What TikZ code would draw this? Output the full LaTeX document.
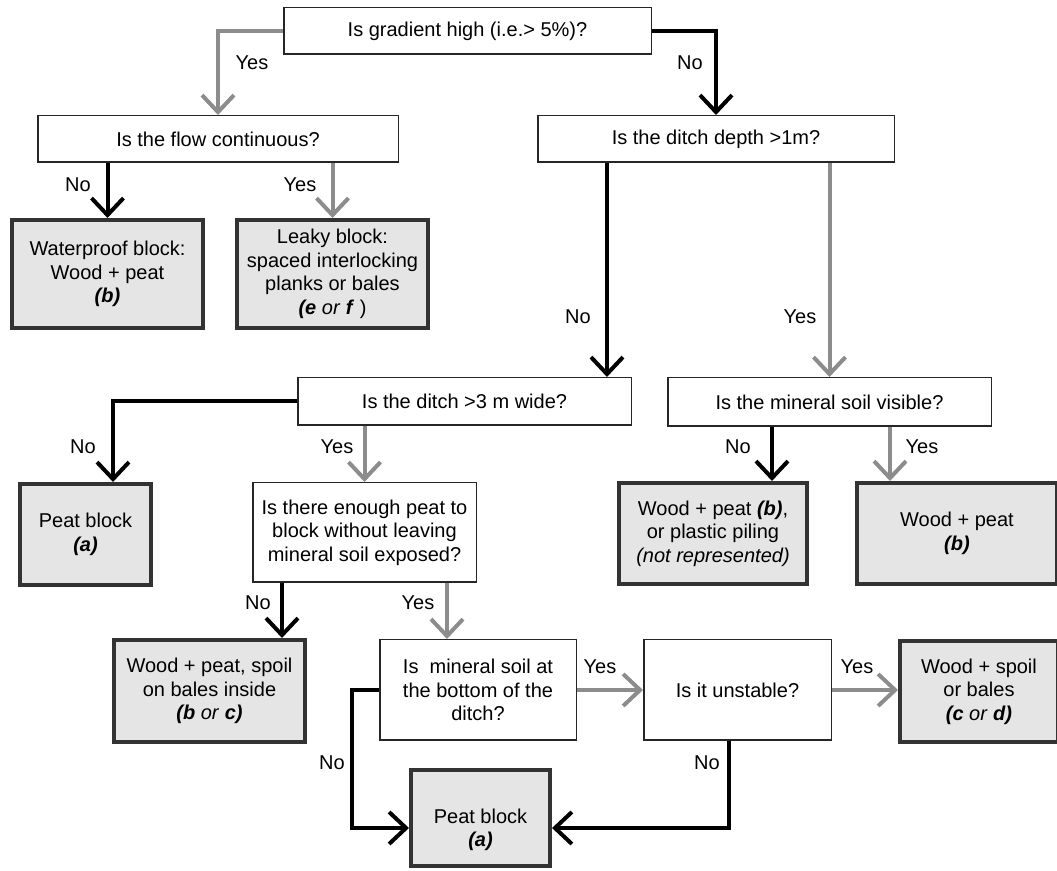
\documentclass[tikz,border=0pt]{standalone}
\usepackage{fontspec}
\setmainfont{Liberation Sans}
\usetikzlibrary{arrows.meta}
\newcommand{\bitx}[1]{\textbf{\textit{#1}}}

\begin{document}
\begin{tikzpicture}[x=0.5pt,y=-0.5pt,font=\fontsize{10}{11.75}\selectfont,
	question/.style={draw=black!85,line width=0.75pt,fill=white,align=center,inner sep=1pt},
	result/.style={draw=black!80,line width=2pt,fill=black!10,align=center,inner sep=1pt},
	yesarrow/.style={draw=black!45,line width=2pt,-{Straight Barb[length=8.5pt,width=16pt]}},
	noarrow/.style={draw=black,line width=2pt,-{Straight Barb[length=8.5pt,width=16pt]}},
	lab/.style={inner sep=0pt}]
	\useasboundingbox (0,0) rectangle (1057,871);
	\clip (0,0) rectangle (1057,871);

	% questions
	\node (grad) [question,minimum width=183.75pt,minimum height=23.25pt] at (467.5,31) {Is gradient high (i.e.> 5\%)?};
	\node (flow) [question,minimum width=180.25pt,minimum height=23.25pt] at (218,139) {Is the flow continuous?};
	\node (depth) [question,minimum width=178.25pt,minimum height=23.25pt] at (716,139) {Is the ditch depth >1m?};
	\node (wide) [question,minimum width=166.75pt,minimum height=23.75pt] at (464.5,401.5) {Is the ditch >3 m wide?};
	\node (visible) [question,minimum width=161.75pt,minimum height=24.25pt] at (829.5,402) {Is the mineral soil visible?};
	\node (enough) [question,minimum width=111.75pt,minimum height=49.75pt] at (364.5,532.5) {Is there enough peat to\\block without leaving\\mineral soil exposed?};
	\node (bottom) [question,minimum width=98.25pt,minimum height=50.25pt] at (478,690) {Is\ \ mineral soil at\\the bottom of the\\ditch?};
	\node (unstable) [question,minimum width=93.75pt,minimum height=50.25pt] at (737.5,690) {Is it unstable?};

	% outcomes
	\node (waterproof) [result,minimum width=95.5pt,minimum height=54pt] at (107.5,274) {Waterproof block:\\Wood + peat\\\bitx{(b)}};
	\node (leaky) [result,minimum width=95.5pt,minimum height=54pt] at (332.5,274) {Leaky block:\\spaced interlocking\\planks or bales\\\bitx{(e} \textit{or} \bitx{f} )};
	\node (peatA) [result,minimum width=65.5pt,minimum height=50.5pt] at (85.5,534.5) {Peat block\\\bitx{(a)}};
	\node (piling) [result,minimum width=94pt,minimum height=50.5pt] at (713,533.5) {Wood + peat \bitx{(b)},\\or plastic piling\\\textit{(not represented)}};
	\node (woodB) [result,minimum width=100pt,minimum height=50.5pt] at (957,533.5) {Wood + peat\\\bitx{(b)}};
	\node (spoil) [result,minimum width=95.5pt,minimum height=51pt] at (209.5,691) {Wood + peat, spoil\\on bales inside\\\bitx{(b} \textit{or} \bitx{c)}};
	\node (woodspoil) [result,minimum width=79pt,minimum height=50.5pt] at (979,691.5) {Wood + spoil\\or bales\\\bitx{(c} \textit{or} \bitx{d)}};
	\node (peatB) [result,minimum width=69.5pt,minimum height=48pt] at (480.5,818) {\rule{0pt}{19pt}Peat block\\\bitx{(a)}};

	\coordinate (wdin) at ([xshift=71.25pt]wide.north);
	\coordinate (pain) at ([xshift=13.75pt]peatA.north);
	\coordinate (pilin) at ([xshift=29.5pt]piling.north);
	\coordinate (wbin) at ([xshift=-33.5pt]woodB.north);
	\coordinate (spin) at ([xshift=36.25pt]spoil.north);
	\coordinate (boin) at ([xshift=-15.5pt]bottom.north);
	\coordinate (ubo) at ([xshift=-4.25pt]unstable.south);
	\coordinate (pbl) at ([yshift=-5pt]peatB.west);
	\coordinate (pbr) at ([yshift=-5pt]peatB.east);

	\draw[yesarrow] (grad.west) -| (flow.north);
	\draw[noarrow] (grad.east) -| (depth.north);
	\draw[noarrow] (waterproof.north |- flow.south) -- (waterproof.north);
	\draw[yesarrow] (leaky.north |- flow.south) -- (leaky.north);
	\draw[noarrow] (wdin |- depth.south) -- (wdin);
	\draw[yesarrow] (visible.north |- depth.south) -- (visible.north);
	\draw[noarrow] (wide.west) -| (pain);
	\draw[yesarrow] (enough.north |- wide.south) -- (enough.north);
	\draw[noarrow] (pilin |- visible.south) -- (pilin);
	\draw[yesarrow] (wbin |- visible.south) -- (wbin);
	\draw[noarrow] (spin |- enough.south) -- (spin);
	\draw[yesarrow] (boin |- enough.south) -- (boin);
	\draw[yesarrow] (bottom.east) -- (unstable.west);
	\draw[yesarrow] (unstable.east) -- (unstable.east -| woodspoil.west);
	\draw[noarrow] (bottom.west) -- ++(-27,0) |- (pbl);
	\draw[noarrow] (ubo) |- (pbr);

	% answers
	\node (l1) [lab] at (252,63) {Yes};
	\node (l2) [lab] at (690,63) {No};
	\node (l3) [lab] at (78,185) {No};
	\node (l4) [lab] at (300,185) {Yes};
	\node (l5) [lab] at (578,317) {No};
	\node (l6) [lab] at (800,317) {Yes};
	\node (l7) [lab] at (83,447) {No};
	\node (l8) [lab] at (337,447) {Yes};
	\node (l9) [lab] at (738,447) {No};
	\node (l10) [lab] at (922,447) {Yes};
	\node (l11) [lab] at (258,603) {No};
	\node (l12) [lab] at (418,603) {Yes};
	\node (l13) [lab] at (600,667) {Yes};
	\node (l14) [lab] at (857,667) {Yes};
	\node (l15) [lab] at (332,763) {No};
	\node (l16) [lab] at (707,763) {No};
\end{tikzpicture}
\end{document}
